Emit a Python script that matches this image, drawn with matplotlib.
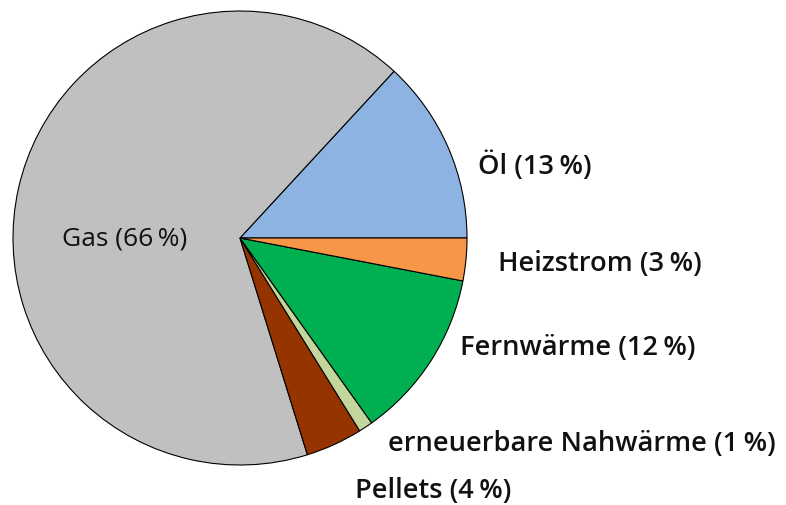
import matplotlib
matplotlib.use("Agg")
import matplotlib.pyplot as plt

categories = ["Öl", "Gas", "Pellets", "erneuerbare Nahwärme", "Fernwärme", "Heizstrom"]
values = [13, 66, 4, 1, 12, 3]
colors = ["#8db3e2", "#c0c0c0", "#963400", "#c3d69b", "#00b050", "#f79646"]

W, H = 786, 505
fig = plt.figure(figsize=(W / 100, H / 100), dpi=100)
ax = fig.add_axes([0, 0, 1, 1])
R = 227
cx, cy = 240, 238
ax.pie(values, colors=colors, startangle=0, counterclock=True, radius=1,
       wedgeprops=dict(edgecolor="black", linewidth=0.8))
ax.set_xlim(-cx / R, (W - cx) / R)
ax.set_ylim(-(H - cy) / R, cy / R)
ax.set_aspect("equal")
ax.axis("off")

# label layout (pixel positions, left x / center y)
pos = {
    "Öl": (478, 166),
    "Heizstrom": (498, 264),
    "Fernwärme": (460, 348),
    "erneuerbare Nahwärme": (388, 444),
    "Pellets": (355, 491),
}
for cat, v in zip(categories, values):
    label = f"{cat} ({v}\u2009%)"
    if cat == "Gas":
        fig.text(125 / W, 1 - 239 / H, label, ha="center", va="center",
                 fontsize=19, family="Open Sans", color="#111111")
    else:
        px, py = pos[cat]
        fig.text(px / W, 1 - py / H, label, ha="left", va="center",
                 fontsize=19.6, family="Open Sans", fontweight="semibold", color="#111111")

fig.savefig("out.png", dpi=100)
